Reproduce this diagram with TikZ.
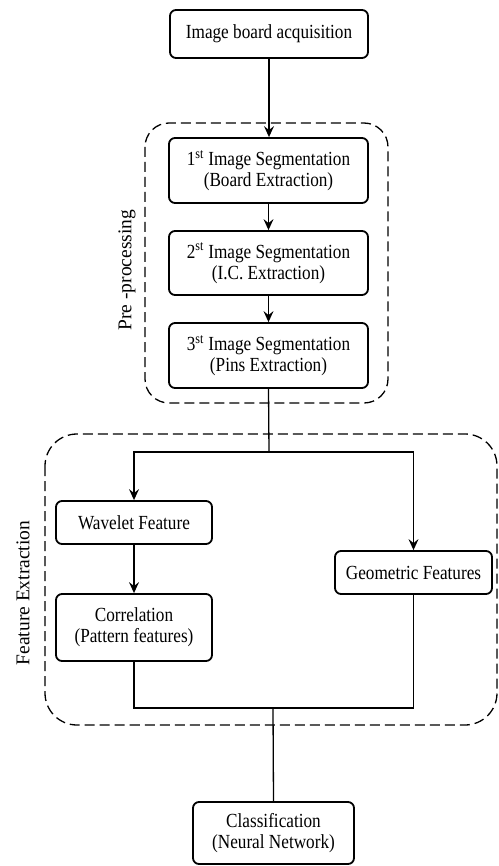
\documentclass[tikz,border=0pt]{standalone}
\usepackage{fontspec}
\setmainfont{Liberation Serif}
\newfontfamily\condfont[FakeStretch=0.86]{Liberation Serif}
\usetikzlibrary{arrows.meta}
\tikzset{
  box/.style={draw, line width=1.8pt, rounded corners=6pt, align=center, inner sep=0pt,
    font=\condfont\fontsize{20}{21}\selectfont},
  grp/.style={draw, line width=1.3pt, dash pattern=on 10pt off 5pt},
  conn/.style={line width=1.3pt},
  arr/.style={conn, -{Stealth[length=11pt,width=10pt,inset=4pt]}},
  lbl/.style={font=\fontsize{19.5}{21}\selectfont, rotate=90, inner sep=0pt},
}
\begin{document}
\begin{tikzpicture}[x=1pt,y=-1pt]
\useasboundingbox (0,0) rectangle (498,866);
% groups
\draw[grp, rounded corners=24pt] (145,123) rectangle (388,403);
\draw[grp, rounded corners=32pt] (45,434) rectangle (497,725);
\node[lbl] (pre) at (127,270) {Pre -processing};
\node[lbl] (fe) at (23,593) {Feature Extraction};
% boxes
\node[box, minimum width=198pt, minimum height=48pt] (acq) at (269,34) {Image board acquisition};
\node[box, minimum width=199pt, minimum height=65pt] (s1) at (268.5,170.5) {1\textsuperscript{st} Image Segmentation\\(Board Extraction)};
\node[box, minimum width=199pt, minimum height=64pt] (s2) at (268.5,263) {2\textsuperscript{st} Image Segmentation\\(I.C. Extraction)};
\node[box, minimum width=199pt, minimum height=65pt] (s3) at (268.5,355.5) {3\textsuperscript{st} Image Segmentation\\(Pins Extraction)};
\node[box, minimum width=156pt, minimum height=43pt] (wav) at (134,522.5) {Wavelet Feature};
\node[box, minimum width=156pt, minimum height=67pt] (cor) at (134,627.5) {Correlation\\(Pattern features)};
\node[box, minimum width=157pt, minimum height=43pt] (geo) at (413.5,572.5) {Geometric Features};
\node[box, minimum width=161pt, minimum height=62pt] (cls) at (273.5,833) {Classification\\(Neural Network)};
% connectors
\coordinate (split) at (269,452);
\coordinate (merge) at (273,708);
\draw[arr] (acq.south) -- (acq.south |- s1.north);
\draw[arr] (s1) -- (s2);
\draw[arr] (s2) -- (s3);
\draw[conn] (s3.south) -- (split);
\draw[arr] (split) -| (wav.north);
\draw[arr] (split) -| (geo.north);
\draw[arr] (wav) -- (cor);
\draw[conn] (cor.south) |- (merge);
\draw[conn] (geo.south) |- (merge);
\draw[conn] (merge) -- (cls.north);
\end{tikzpicture}
\end{document}
